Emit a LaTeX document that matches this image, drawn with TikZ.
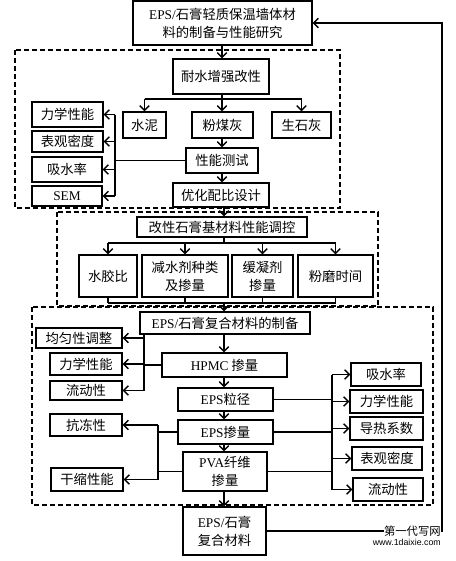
\documentclass[tikz,border=0pt]{standalone}
\usepackage{fontspec}
\setmainfont{Liberation Serif}
\newfontfamily\zhfont{Noto Sans CJK SC}
\newcommand\en[1]{{\rmfamily #1}}
\usetikzlibrary{arrows.meta}
\tikzset{
 box/.style={draw, line width=1.1pt, inner sep=0pt, align=center, font=\zhfont\fontsize{10}{13.5}\selectfont},
 conn/.style={line width=1pt},
 arr/.style={conn, -{Straight Barb[length=3.5pt,width=7pt]}},
 group/.style={draw, line width=1.1pt, dash pattern=on 4pt off 2pt},
 wm/.style={inner sep=0pt, fill=white},
}
\newcommand\bx[6]{%
  \pgfmathsetmacro\bw{(#4-#2)*0.75}%
  \pgfmathsetmacro\bh{(#5-#3)*0.75}%
  \node[box, minimum width=\bw pt, minimum height=\bh pt] (#1) at ({(#2+#4)/2},{(#3+#5)/2}) {#6};}
\begin{document}
\begin{tikzpicture}[x=0.75pt,y=-0.75pt]
\useasboundingbox (0,0) rectangle (455,561);
% groups
\draw[group] (15,50) rectangle (340,208);
\draw[group] (57,212) rectangle (378,306);
\draw[group] (32,307) rectangle (433,505);
% section 1
\bx{top}{133}{1}{312}{45}{\en{EPS/}石膏轻质保温墙体材\\料的制备与性能研究}
\bx{nsq}{173}{59}{269}{94}{耐水增强改性}
\bx{sn}{123}{112}{166}{138}{水泥}
\bx{fmh}{192}{112}{253}{138}{粉煤灰}
\bx{ssh}{272}{112}{331}{138}{生石灰}
\bx{csx}{186}{148}{258}{173}{性能测试}
\bx{yh}{173}{183}{269}{207}{优化配比设计}
\bx{L1}{32}{102}{103}{127}{力学性能}
\bx{L2}{32}{131}{103}{152}{表观密度}
\bx{L3}{32}{157}{102}{182}{吸水率}
\bx{L4}{32}{186}{102}{206}{\en{SEM}}
% section 2
\bx{gx}{137}{217}{307}{237}{改性石膏基材料性能调控}
\bx{b1}{79}{255}{137}{297}{水胶比}
\bx{b2}{142}{255}{228}{297}{减水剂种类\\及掺量}
\bx{b3}{232}{255}{293}{297}{缓凝剂\\掺量}
\bx{b4}{298}{255}{373}{297}{粉磨时间}
% section 3
\bx{zb}{140}{312}{310}{334}{\en{EPS/}石膏复合材料的制备}
\bx{R1}{36}{328}{122}{348}{均匀性调整}
\bx{R2}{50}{353}{122}{375}{力学性能}
\bx{R3}{50}{381}{122}{400}{流动性}
\bx{hpmc}{162}{353}{287}{377}{\en{HPMC} 掺量}
\bx{li}{178}{388}{273}{411}{\en{EPS}粒径}
\bx{cl}{178}{420}{273}{444}{\en{EPS}掺量}
\bx{pva}{183}{452}{267}{491}{\en{PVA}纤维\\掺量}
\bx{res}{183}{507}{266}{555}{\en{EPS/}石膏\\复合材料}
\bx{kd}{50}{414}{122}{436}{抗冻性}
\bx{gs}{51}{468}{123}{491}{干缩性能}
\bx{Q1}{351}{363}{421}{386}{吸水率}
\bx{Q2}{350}{390}{423}{413}{力学性能}
\bx{Q3}{350}{417}{423}{440}{导热系数}
\bx{Q4}{352}{447}{422}{470}{表观密度}
\bx{Q5}{353}{478}{423}{501}{流动性}
% helper coordinates
\coordinate (c1) at (222,0);
\coordinate (c2) at (224,0);
\coordinate (h1) at (0,99);
\coordinate (h2) at (0,243);
\coordinate (h3) at (0,303);
\coordinate (v1) at (115,0);
\coordinate (v2) at (144,0);
\coordinate (v3) at (158,0);
\coordinate (v4) at (332,0);
\coordinate (fb) at (442,0);
% section 1 connectors
\draw[arr] (top.south -| c1) -- (nsq.north -| c1);
\draw[conn] (nsq.south -| c1) -- (h1 -| c1);
\draw[conn] (h1 -| sn) -- (h1 -| ssh);
\draw[arr] (h1 -| sn) -- (sn.north);
\draw[arr] (h1 -| c1) -- (fmh.north -| c1);
\draw[arr] (h1 -| ssh) -- (ssh.north);
\draw[arr] (fmh.south -| c1) -- (csx.north -| c1);
\draw[arr] (csx.south -| c1) -- (yh.north -| c1);
\draw[conn] (csx.west) -- (csx.west -| v1);
\draw[conn] (L1 -| v1) -- (L4 -| v1);
\foreach \n in {L1,L2,L3,L4} \draw[arr] (\n -| v1) -- (\n.east);
% section 2 connectors
\draw[arr] (yh.south -| c2) -- (gx.north -| c2);
\draw[conn] (gx.south -| c2) -- (h2 -| c2);
\draw[conn] (h2 -| b1) -- (h2 -| b4);
\foreach \n in {b1,b2,b3,b4} {
  \draw[arr] (h2 -| \n) -- (\n.north);
  \draw[conn] (\n.south) -- (h3 -| \n);
}
\draw[conn] (h3 -| b1) -- (h3 -| b4);
\draw[arr] (h3 -| c2) -- (zb.north -| c2);
% section 3 connectors
\draw[conn] (zb.south -| v2) -- (R3 -| v2);
\foreach \n in {R1,R2,R3} \draw[arr] (\n -| v2) -- (\n.east);
\draw[conn] (hpmc.west) -- (hpmc.west -| v2);
\draw[arr] (zb.south -| c2) -- (hpmc.north -| c2);
\draw[arr] (hpmc.south -| c2) -- (li.north -| c2);
\draw[arr] (li.south -| c2) -- (cl.north -| c2);
\draw[arr] (cl.south -| c2) -- (pva.north -| c2);
\draw[arr] (pva.south -| c2) -- (res.north -| c2);
\draw[conn] (cl.west) -- (cl.west -| v3);
\draw[conn] (pva.west) -- (pva.west -| v3);
\draw[conn] (kd -| v3) -- (gs -| v3);
\draw[arr] (kd -| v3) -- (kd.east);
\draw[arr] (gs -| v3) -- (gs.east);
\draw[conn] (li.east) -- (li.east -| v4);
\draw[conn] (cl.east) -- (cl.east -| v4);
\draw[conn] (pva.east) -- (pva.east -| v4);
\draw[conn] (Q1 -| v4) -- (Q5 -| v4);
\foreach \n in {Q1,Q2,Q3,Q4,Q5} \draw[arr] (\n -| v4) -- (\n.west);
% feedback
\draw[arr] (res.east) -- (res.east -| fb) -- (fb |- top.east) -- (top.east);
% watermark
\node[wm, font=\zhfont\fontsize{8.5}{9}\selectfont, anchor=east] (wm1) at (441,531) {第一代写网};
\node[wm, font=\fontspec{Liberation Sans}\fontsize{6.6}{8}\selectfont, anchor=east] (wm2) at (441,542.5) {www.1daixie.com};
\end{tikzpicture}
\end{document}
